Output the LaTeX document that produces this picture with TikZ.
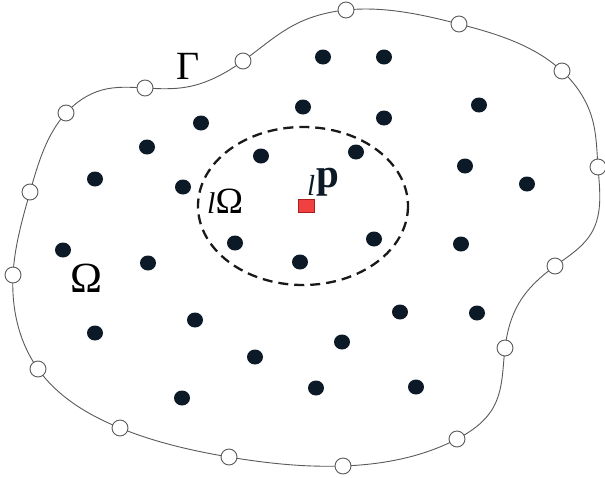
\documentclass[tikz,border=0pt]{standalone}
\usepackage{fontspec}
\setmainfont{Liberation Serif}
\usetikzlibrary{hobby}
\definecolor{dotc}{RGB}{12,26,40}
\definecolor{bndc}{RGB}{90,90,90}
\definecolor{sqfill}{RGB}{240,64,64}
\definecolor{sqdraw}{RGB}{170,30,30}
\begin{document}
\begin{tikzpicture}[x=1pt,y=-1pt,
  bndline/.style={draw=bndc, line width=0.9pt},
  opencirc/.style={draw=bndc, fill=white, line width=0.9pt},
  dotstyle/.style={fill=dotc},
  dashring/.style={draw=black!90, line width=2.3pt, dash pattern=on 10pt off 6pt},
  lbl/.style={inner sep=0pt, anchor=base west, text=black}]
\useasboundingbox[fill=white] (0,0) rectangle (605,477);
% boundary Gamma
\draw[bndline, use Hobby shortcut, closed=true]
  (346,10) .. (459,24) .. (562,71) .. (592,118) .. (598,167) .. (592,232) .. (555,266)
  .. (519,303) .. (505,348) .. (493,408) .. (457,439) .. (343,466) .. (229,457)
  .. (120,428) .. (38,369) .. (13,275) .. (30,192) .. (66,113) .. (102,90)
  .. (145,88) .. (187,87) .. (243,61) .. (296,24);
% boundary nodes
\foreach \p in {(346,10),(459,24),(562,71),(598,167),(555,266),(505,348),(457,439),
  (343,466),(229,457),(120,428),(38,369),(13,275),(30,192),(66,113),(145,88),(243,61)}
  \draw[opencirc] \p circle (8);
% interior nodes
\foreach \p in {(323,57),(384,57),(303,107),(479,105),(201,123),(384,118),(147,147),
  (261,156),(356,152),(465,166),(95,179),(183,187),(527,184),(63,250),(148,263),
  (235,243),(300,262),(374,239),(461,244),(95,333),(195,320),(400,312),(477,313),
  (342,342),(255,357),(182,398),(316,388),(416,387)}
  \fill[dotstyle] \p ellipse (8 and 7.5);
% support domain
\draw[dashring] (303,206) ellipse (105 and 79);
\filldraw[fill=sqfill, draw=sqdraw, line width=0.7pt] (298,199) rectangle (314,212);
% labels
\node[lbl] (gam) at (176,79) {\fontsize{40}{40}\selectfont Γ};
\node[lbl] (om) at (70,292) {\fontsize{43}{43}\selectfont Ω};
\node[lbl] (lom) at (207,213) {{\fontsize{30}{30}\selectfont\itshape l}{\fontsize{37}{37}\selectfont Ω}};
\node[lbl, text=dotc] (lp) at (307,187) {{\fontsize{29}{29}\selectfont\itshape\raisebox{-8pt}{l}}\hspace{1pt}{\fontsize{41}{41}\selectfont\bfseries p}};
\end{tikzpicture}
\end{document}
